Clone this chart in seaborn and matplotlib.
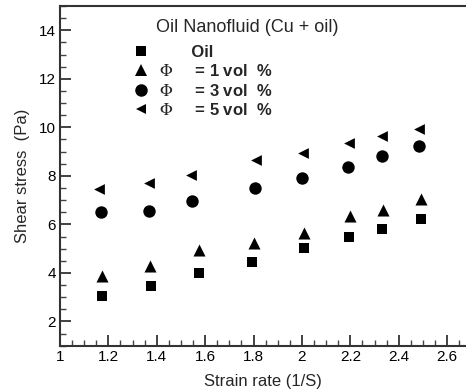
import numpy as np
import pandas as pd
import matplotlib
matplotlib.use("Agg")
import matplotlib.pyplot as plt
import seaborn as sns
from matplotlib.ticker import MultipleLocator
from matplotlib.lines import Line2D

sns.set_style("ticks")
plt.rcParams['font.family'] = ['Liberation Sans', 'DejaVu Sans']
plt.rcParams['mathtext.fontset'] = 'stix'

# Data
x_oil = [1.172, 1.375, 1.576, 1.792, 2.009, 2.195, 2.331, 2.49]
y_oil = [3.06, 3.48, 4.01, 4.44, 5.03, 5.46, 5.83, 6.23]
x_p1 = [1.172, 1.373, 1.574, 1.80, 2.009, 2.20, 2.335, 2.49]
y_p1 = [3.89, 4.27, 4.96, 5.24, 5.65, 6.34, 6.59, 7.03]
x_p3 = [1.168, 1.368, 1.545, 1.806, 1.999, 2.19, 2.332, 2.485]
y_p3 = [6.52, 6.54, 6.96, 7.48, 7.93, 8.35, 8.80, 9.24]
x_p5 = [1.161, 1.368, 1.541, 1.81, 2.005, 2.195, 2.332, 2.485]
y_p5 = [7.45, 7.72, 8.03, 8.66, 8.94, 9.35, 9.65, 9.93]

labels = ["       Oil", r"$\Phi$     = 1 vol  %", r"$\Phi$     = 3 vol  %", r"$\Phi$     = 5 vol  %"]
title_text = "Oil Nanofluid (Cu + oil)"
xlabel = "Strain rate (1/S)"
ylabel = "Shear stress  (Pa)"

fig = plt.figure(figsize=(4.66, 3.92), dpi=100)
ax = fig.add_axes([60/466, 46.3/392, 1 - 60/466, (345.7-6)/392])

series = [
    (x_oil, y_oil, 's', 55),
    (x_p1, y_p1, '^', 75),
    (x_p3, y_p3, 'o', 80),
    (x_p5, y_p5, '<', 60),
]
for xs, ys, m, s in series:
    df = pd.DataFrame({"x": xs, "y": ys})
    sns.scatterplot(data=df, x="x", y="y", marker=m, s=s, color="black",
                    linewidth=0, ax=ax, legend=False)

ax.set_xlim(1, 2.678)
ax.set_ylim(1, 15)
ax.xaxis.set_major_locator(MultipleLocator(0.2))
ax.xaxis.set_minor_locator(MultipleLocator(0.05))
ax.yaxis.set_major_locator(MultipleLocator(2))
ax.yaxis.set_minor_locator(MultipleLocator(0.5))
ax.set_xticks(np.arange(1, 2.61, 0.2))
ax.set_xticklabels(["1", "1.2", "1.4", "1.6", "1.8", "2", "2.2", "2.4", "2.6"])
ax.set_yticks([2, 4, 6, 8, 10, 12, 14])
ax.tick_params(which='major', direction='in', length=8, width=1.2, labelsize=11, colors='#222222', pad=3)
ax.tick_params(which='minor', direction='in', length=4, width=1.0, colors='#444444')
ax.tick_params(axis='both', labelcolor='black')
for sp in ['left', 'bottom', 'top']:
    ax.spines[sp].set_linewidth(1.5)
    ax.spines[sp].set_color('#333333')
ax.spines['right'].set_visible(False)

ax.set_xlabel(xlabel, fontsize=12, labelpad=7)
ax.set_ylabel(ylabel, fontsize=12, labelpad=6)

ax.text(0.46, 0.936, title_text, transform=ax.transAxes, ha='center', va='center', fontsize=13)

markers = ['s', '^', 'o', '<']
msizes = [7.4, 8.6, 9.0, 7.7]
handles = [Line2D([], [], linestyle='none', marker=m, markersize=ms, color='black', markeredgewidth=0)
           for m, ms in zip(markers, msizes)]
leg = ax.legend(handles, labels, loc='upper left', bbox_to_anchor=(0.158, 0.91),
                frameon=False, prop={'weight': 'bold', 'size': 12},
                handletextpad=0.6, labelspacing=0.2, handlelength=1.0, borderpad=0)

fig.savefig("out.png", dpi=100)
